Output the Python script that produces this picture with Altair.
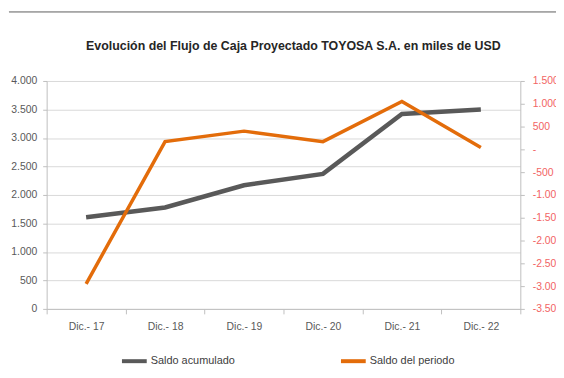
import altair as alt
import pandas as pd

categorias = ["Dic.- 17", "Dic.- 18", "Dic.- 19", "Dic.- 20", "Dic.- 21", "Dic.- 22"]
saldo_acumulado = [1610, 1780, 2170, 2370, 3420, 3500]
saldo_periodo = [-2950, 170, 400, 170, 1050, 40]
series = ["Saldo acumulado", "Saldo del periodo"]
colores = ["#595959", "#E36C0A"]
titulo = "Evolución del Flujo de Caja Proyectado TOYOSA S.A. en miles de USD"

df = pd.DataFrame({
    "cat": categorias,
    "acum": saldo_acumulado,
    "per": saldo_periodo,
    "s1": series[0],
    "s2": series[1],
})

FONT = "Liberation Sans, Arial, sans-serif"

fmt = "datum.value == 0 ? '{z}' : (datum.value < 0 ? '-' : '') + replace(format(abs(datum.value), ','), ',', '.')"

xscale = alt.Scale(type="band", paddingInner=0, paddingOuter=0)

linea1 = alt.Chart(df).mark_line(strokeWidth=4.5).encode(
    x=alt.X("cat:N", sort=categorias, bandPosition=0.5, title=None, scale=xscale,
            axis=alt.Axis(labelAngle=0, tickBand="extent", domainColor="#BFBFBF",
                          tickColor="#BFBFBF", tickSize=5, labelColor="#595959",
                          labelFontSize=10.5, labelFont=FONT, labelPadding=8, grid=False)),
    y=alt.Y("acum:Q", title=None,
            scale=alt.Scale(domain=[0, 4000], nice=False),
            axis=alt.Axis(values=list(range(0, 4001, 500)), labelExpr=fmt.format(z="0"),
                          gridColor="#D9D9D9", domainColor="#BFBFBF", tickColor="#BFBFBF",
                          tickSize=4, labelColor="#595959", labelFontSize=10.5, labelFont=FONT,
                          labelPadding=6)),
    color=alt.Color("s1:N", title=None, scale=alt.Scale(domain=series, range=colores),
                    legend=alt.Legend(orient="none", legendX=74, legendY=268, direction="horizontal",
                                      padding=0, symbolType="stroke", symbolStrokeWidth=4,
                                      symbolSize=625, labelFont=FONT, labelFontSize=11,
                                      labelColor="#404040", columnPadding=98, labelOffset=2)),
)

linea2 = alt.Chart(df).mark_line(strokeWidth=3.5).encode(
    x=alt.X("cat:N", sort=categorias, bandPosition=0.5, scale=xscale),
    y=alt.Y("per:Q", title=None,
            scale=alt.Scale(domain=[-3500, 1500], nice=False),
            axis=alt.Axis(orient="right", values=list(range(-3500, 1501, 500)),
                          labelExpr=fmt.format(z="-"), grid=False,
                          domainColor="#BFBFBF", tickColor="#BFBFBF", tickSize=4,
                          labelColor="#F26464", labelFontSize=10.5, labelFont=FONT,
                          labelPadding=8)),
    color=alt.Color("s2:N", scale=alt.Scale(domain=series, range=colores)),
)

texto_titulo = alt.Chart(pd.DataFrame({"t": [titulo]})).mark_text(
    font=FONT, fontSize=12.5, fontWeight="bold", color="#262626", align="center", baseline="middle"
).encode(text="t:N", x=alt.value(249), y=alt.value(-35))

borde_sup = alt.Chart(df).mark_rule(color="#A6A6A6", strokeWidth=1.5).encode(
    x=alt.value(-38), x2=alt.value(515), y=alt.value(-70))

chart = alt.layer(linea1, linea2, texto_titulo, borde_sup).resolve_scale(
    y="independent"
).properties(
    width=478, height=230,
    padding={"left": 39, "top": 72, "right": 36, "bottom": 60},
    autosize=alt.AutoSizeParams(type="none"),
).configure_view(stroke=None)

chart.save("out.html", embed_options={"renderer": "svg", "actions": False})
